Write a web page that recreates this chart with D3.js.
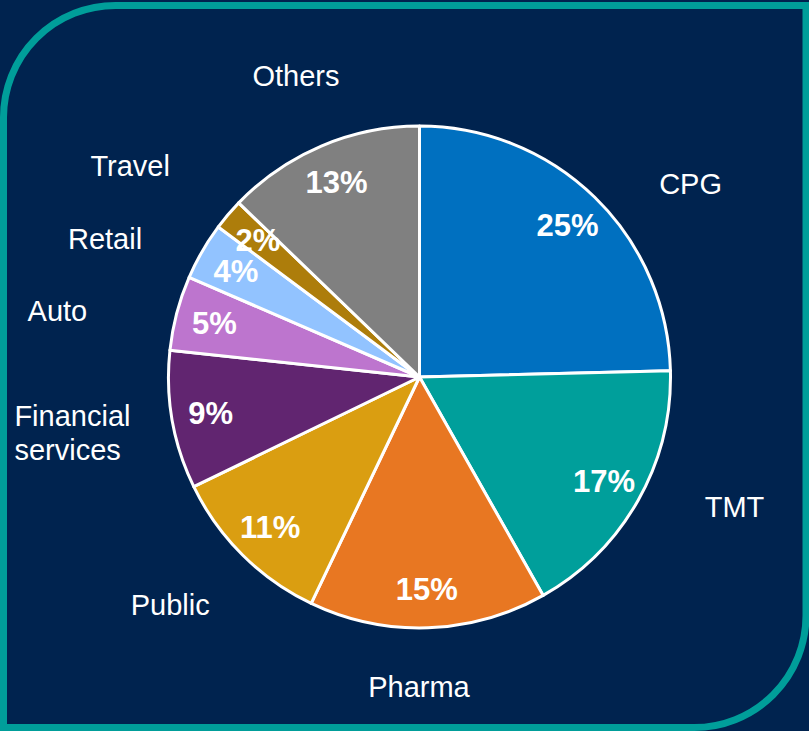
<!DOCTYPE html>
<html>
<head>
<meta charset="utf-8">
<script src="https://cdn.jsdelivr.net/npm/d3@7"></script>
<style>
  html, body { margin: 0; padding: 0; background: #00234f; overflow: hidden; }
  svg { display: block; }
</style>
</head>
<body>
<script>
const w = 809;
const h = 731;

// sectors, clockwise from 12 o'clock
const sectors = ["CPG", "TMT", "Pharma", "Public", "Financial\nservices", "Auto", "Retail", "Travel", "Others"];
const shares = [24.6, 17.2, 15.3, 10.7, 8.9, 4.8, 3.7, 2.0, 12.8];
const shareLabels = ["25%", "17%", "15%", "11%", "9%", "5%", "4%", "2%", "13%"];
const colors = ["#0070c0", "#009f9b", "#e87722", "#da9e11", "#612570", "#bd75ce", "#92c3ff", "#ad7d0b", "#808080"];

// hand placement of the outer category labels (as in the slide)
const labelNudge = [[40, 44], [27, -33], [-12, -21], [-16, -7], [-21, -1], [-42, 18], [-28, 28], [-37, 3], [6, 3]];

const cx = 419.5;
const cy = 377;
const radius = 251;

const svg = d3.select("body").append("svg").attr("width", w).attr("height", h);

// frame: rounded top-left and bottom-right corners
const fr = { l: 3.5, t: 5.5, r: 806, b: 727.5, rad: 112 };
const framePath = d3.path();
framePath.moveTo(fr.l, fr.t + fr.rad);
framePath.arcTo(fr.l, fr.t, fr.l + fr.rad, fr.t, fr.rad);
framePath.lineTo(fr.r, fr.t);
framePath.lineTo(fr.r, fr.b - fr.rad);
framePath.arcTo(fr.r, fr.b, fr.r - fr.rad, fr.b, fr.rad);
framePath.lineTo(fr.l, fr.b);
framePath.closePath();

svg.append("path")
  .attr("d", framePath.toString())
  .attr("fill", "#00234f")
  .attr("stroke", "#009e9a")
  .attr("stroke-width", 7);

const data = sectors.map((s, i) => ({ sector: s, share: shares[i], label: shareLabels[i], color: colors[i] }));

const pie = d3.pie().sort(null).value(d => d.share);
const arcs = pie(data);

const arc = d3.arc().innerRadius(0).outerRadius(radius);
const valueArc = d3.arc().innerRadius(212).outerRadius(212);
const nameArc = d3.arc().innerRadius(331).outerRadius(331);

const g = svg.append("g").attr("transform", "translate(" + cx + "," + cy + ")");

g.selectAll(".slice")
  .data(arcs)
  .enter()
  .append("path")
  .attr("class", "slice")
  .attr("d", arc)
  .attr("fill", d => d.data.color)
  .attr("stroke", "#ffffff")
  .attr("stroke-width", 3)
  .attr("stroke-linejoin", "round");

g.selectAll(".value-label")
  .data(arcs)
  .enter()
  .append("text")
  .attr("class", "value-label")
  .attr("transform", d => "translate(" + valueArc.centroid(d) + ")")
  .attr("text-anchor", "middle")
  .attr("dy", "0.35em")
  .attr("fill", "#ffffff")
  .style("font-family", "Arial, 'Liberation Sans', sans-serif")
  .style("font-weight", "bold")
  .style("font-size", "31px")
  .text(d => d.data.label);

const names = g.selectAll(".name-label")
  .data(arcs)
  .enter()
  .append("text")
  .attr("class", "name-label")
  .attr("fill", "#ffffff")
  .style("font-family", "Arial, 'Liberation Sans', sans-serif")
  .style("font-size", "29px");

names.each(function (d, i) {
  const t = d3.select(this);
  const lines = d.data.sector.split("\n");
  const c = nameArc.centroid(d);
  const x = c[0] + labelNudge[i][0];
  const y = c[1] + labelNudge[i][1];
  const lineH = 34;
  const top = y - (lines.length - 1) * lineH / 2;
  lines.forEach((ln, k) => {
    t.append("tspan").attr("y", top + k * lineH).attr("dy", "0.35em").text(ln);
  });
  // left-align lines in a block centred on (x, y)
  let blockW = 0;
  t.selectAll("tspan").each(function () {
    blockW = Math.max(blockW, this.getComputedTextLength());
  });
  t.selectAll("tspan").attr("x", lines.length > 1 ? x - blockW / 2 : x)
    .attr("text-anchor", lines.length > 1 ? "start" : "middle");
});
</script>
</body>
</html>
